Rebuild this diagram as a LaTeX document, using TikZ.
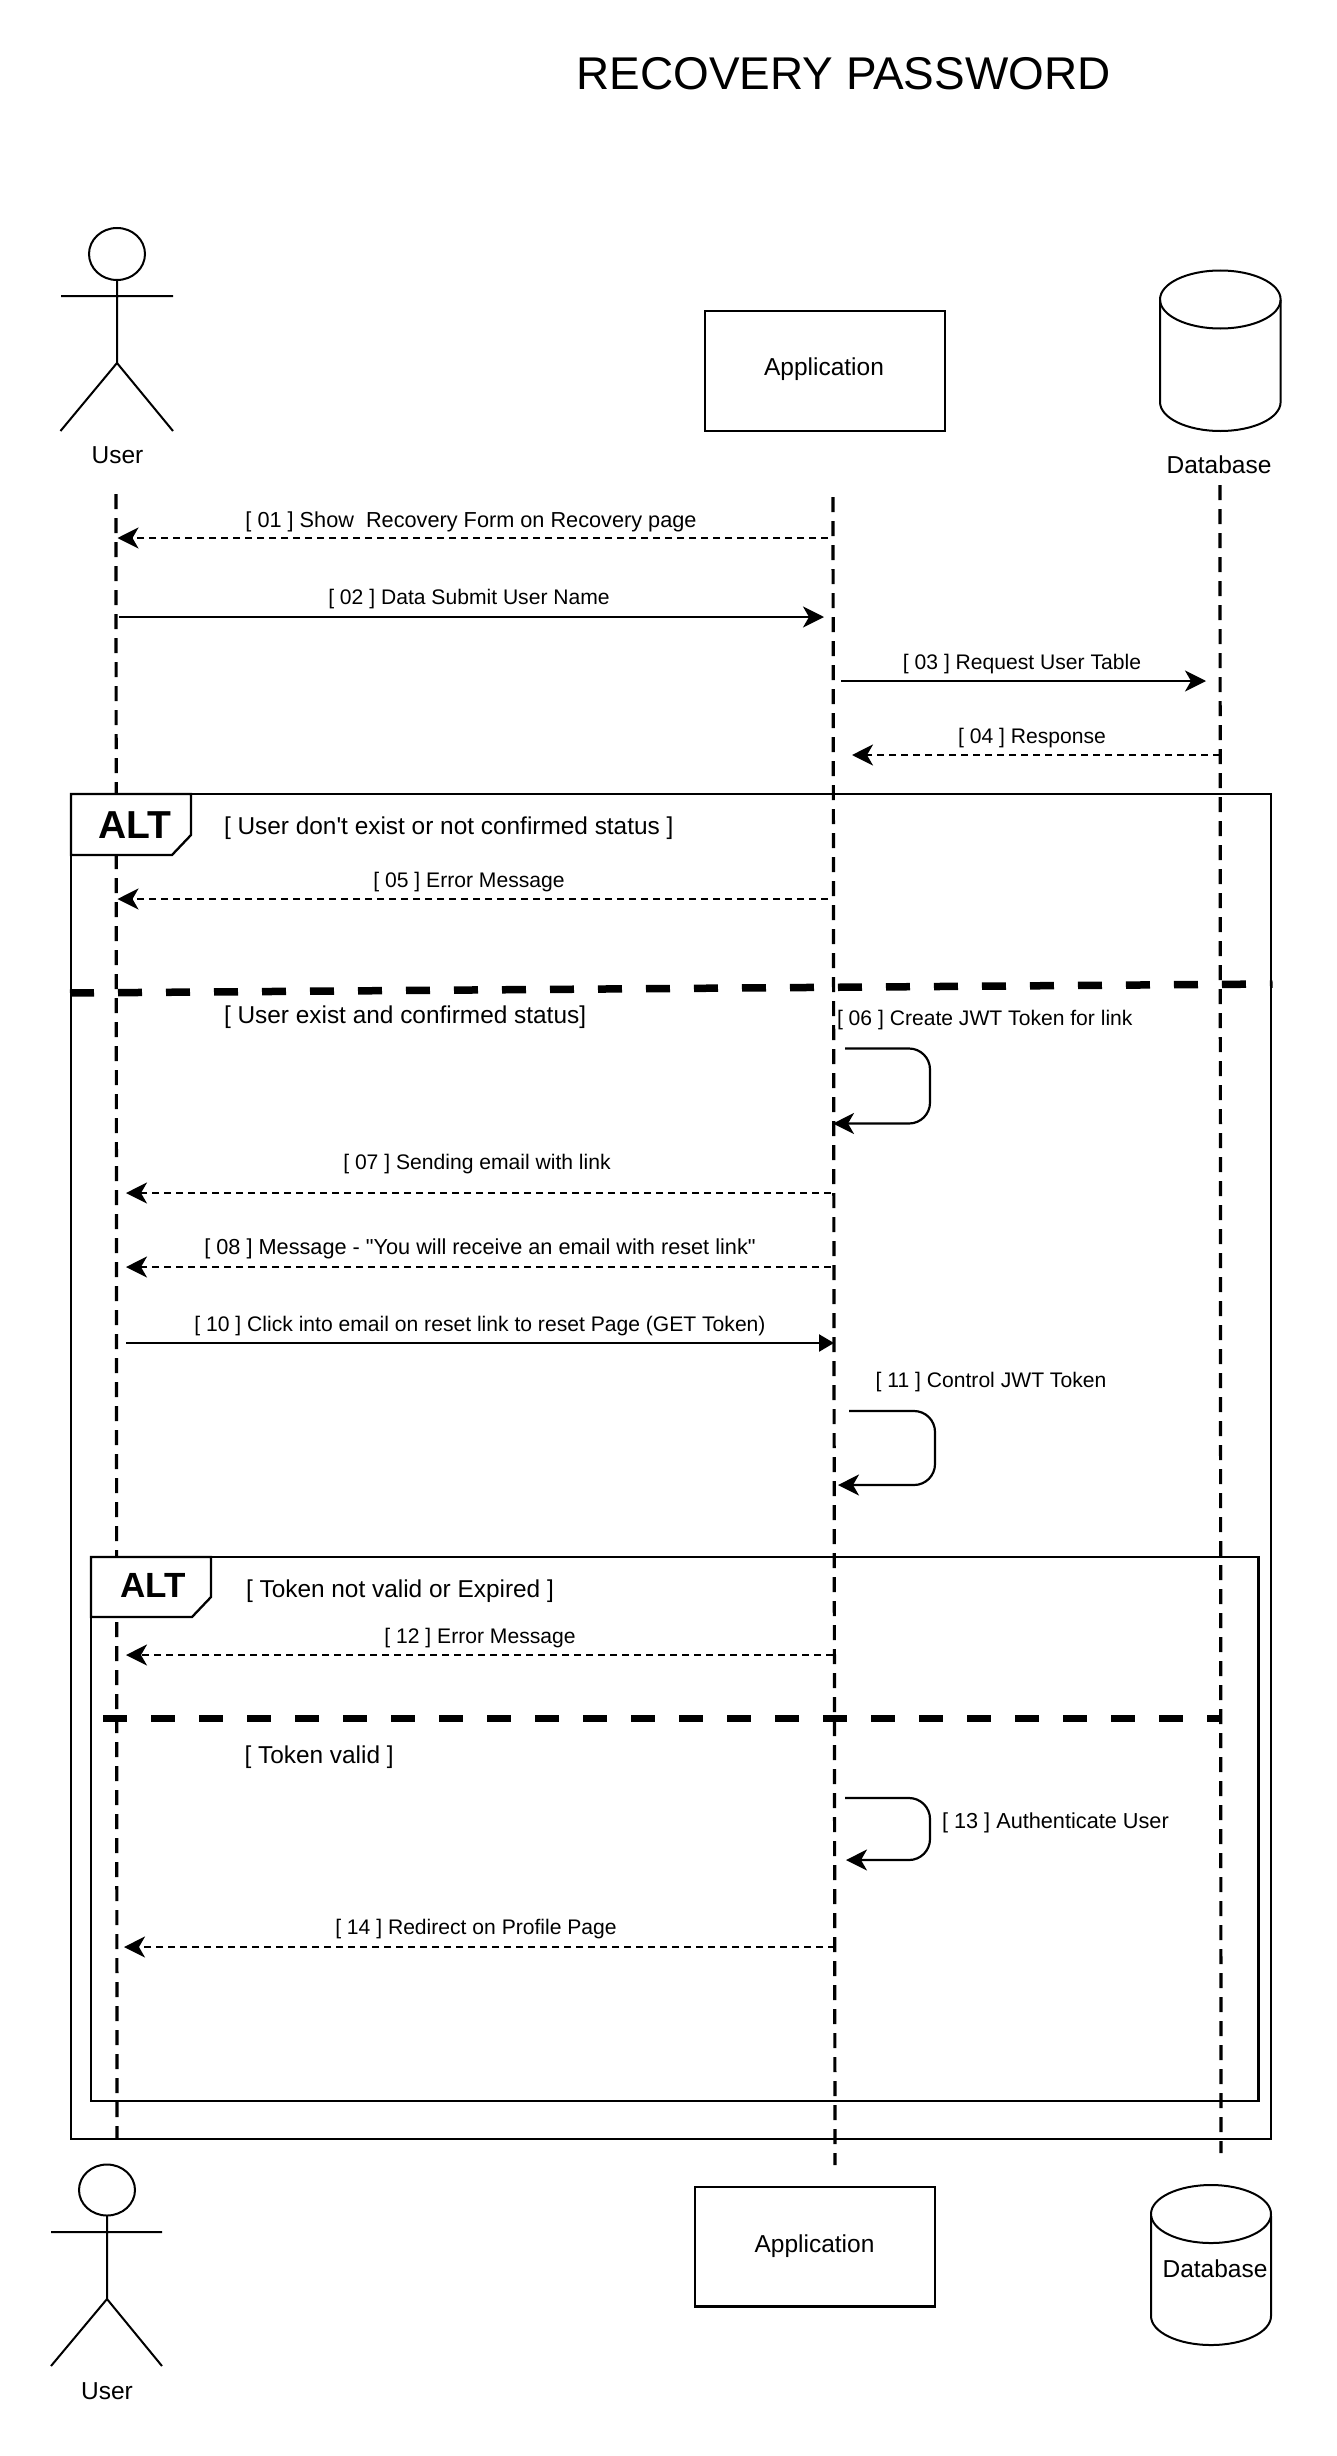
\documentclass[tikz,border=0pt]{standalone}
\usepackage{fontspec}
\setmainfont{Liberation Sans}
\newfontfamily\plainsans{Liberation Sans}
\usetikzlibrary{arrows.meta}
\tikzset{
  x=1pt,y=-1pt,
  every node/.style={inner sep=0pt,outer sep=0pt},
  lbl/.style={font=\plainsans\fontsize{21.1}{25}\selectfont,text height=15.5pt,text depth=1.5pt},
  lblwide/.style={font=\plainsans\fontsize{21.7}{25}\selectfont,text height=15.5pt,text depth=1.5pt},
  actorlbl/.style={font=\plainsans\fontsize{24.5}{28}\selectfont,text height=16pt,text depth=1pt},
  cond/.style={font=\plainsans\fontsize{24.4}{28}\selectfont,text height=18pt,text depth=3pt},
  altbig/.style={font=\plainsans\fontsize{39}{44}\selectfont\bfseries},
  altsmall/.style={font=\plainsans\fontsize{35}{40}\selectfont\bfseries},
  titlefont/.style={font=\plainsans\fontsize{45.9}{52}\selectfont},
  shapeline/.style={line width=2pt,line join=miter},
  lifeline/.style={line width=3.2pt,dash pattern=on 15pt off 9pt},
  framebox/.style={line width=2.3pt},
  tabbox/.style={line width=2.3pt,fill=white},
  sepline/.style={line width=7.5pt,dash pattern=on 24pt off 24pt},
  head/.style={-{Stealth[length=21pt,width=21pt,inset=6pt]}},
  msgsolid/.style={line width=2.4pt,head},
  msgdash/.style={line width=2.2pt,head,dash pattern=on 7pt off 5pt},
  msgblock/.style={line width=2.4pt,-{Triangle[length=15pt,width=17pt]}},
  selfloop/.style={line width=2.2pt,head,rounded corners=21pt},
}
\begin{document}
\begin{tikzpicture}
\useasboundingbox (0,0) rectangle (1336,2456);
\fill[white] (0,0) rectangle (1336,2456);

% title
\node[titlefont] (title) at (843.5,74) {RECOVERY PASSWORD};

% lifeline ends
\coordinate (uT) at (116,494);  \coordinate (uB) at (117,2139);
\coordinate (aT) at (833,497);  \coordinate (aB) at (835,2165);
\coordinate (dT) at (1220,485); \coordinate (dB) at (1221,2153);
\draw[lifeline] (uT) -- (uB);
\draw[lifeline] (aT) -- (aB);
\draw[lifeline] (dT) -- (dB);

% top actors
\draw[shapeline] (117,254) ellipse [x radius=28,y radius=26];
\draw[shapeline] (117,280) -- (117,363) (61,296) -- (173,296) (60.5,431) -- (117,363) -- (173,431);
\node[actorlbl] (userTop) at (117.5,456) {User};
\node[draw,line width=2.3pt,minimum width=240pt,minimum height=120pt,anchor=north west] (appTop) at (705,311) {};
\node[actorlbl] (appTopText) at (824,368) {Application};
\draw[shapeline] (1160,300) -- (1160,402) arc[start angle=180,end angle=0,x radius=60.3,y radius=29] -- (1280.6,300);
\draw[shapeline] (1220.3,299.5) ellipse [x radius=60.3,y radius=29];
\node[actorlbl] (dbTop) at (1219,466) {Database};

% outer frame
\node[draw,framebox,minimum width=1200pt,minimum height=1345pt,anchor=north west] (frameA) at (71,794) {};
\draw[tabbox] (71,794) -- (191,794) -- (191,835) -- (172,855) -- (71,855) -- cycle;
\node[altbig] (altA) at (135,825) {ALT};
\node[cond,anchor=west] (condA1) at (224,826.5) {[ User don't exist or not confirmed status ]};
\node[cond,anchor=west] (condA2) at (224,1016) {[ User exist and confirmed status]};
\coordinate (sepAl) at (70,993); \coordinate (sepAr) at (1272.5,984);
\draw[sepline] (sepAl) -- (sepAr);

% inner frame
\node[draw,framebox,minimum width=1167.5pt,minimum height=543.7pt,anchor=north west] (frameB) at (91,1557) {};
\draw[tabbox] (91,1557) -- (211,1557) -- (211,1597) -- (192,1617) -- (91,1617) -- cycle;
\node[altsmall] (altB) at (153,1585) {ALT};
\node[cond,anchor=west] (condB1) at (246,1590) {[ Token not valid or Expired ]};
\node[cond,anchor=west] (condB2) at (244.5,1756) {[ Token valid ]};
\coordinate (sepBl) at (103,1718.5); \coordinate (sepBr) at (1222,1718.5);
\draw[sepline] (sepBl) -- (sepBr);

% messages
\coordinate (m01s) at (828,538);  \coordinate (m01e) at (117.5,538);
\draw[msgdash] (m01s) -- (m01e);
\node[lblwide] (t01) at (471,520) {[ 01 ] Show~ Recovery Form on Recovery page};

\coordinate (m02s) at (119,617);  \coordinate (m02e) at (824,617);
\draw[msgsolid] (m02s) -- (m02e);
\node[lbl] (t02) at (469,597) {[ 02 ] Data Submit User Name};

\coordinate (m03s) at (841,681);  \coordinate (m03e) at (1206,681);
\draw[msgsolid] (m03s) -- (m03e);
\node[lbl] (t03) at (1022,662) {[ 03 ] Request User Table};

\coordinate (m04s) at (1220,755); \coordinate (m04e) at (852,755);
\draw[msgdash] (m04s) -- (m04e);
\node[lbl] (t04) at (1032,736) {[ 04 ] Response};

\coordinate (m05s) at (828,899);  \coordinate (m05e) at (117.5,899);
\draw[msgdash] (m05s) -- (m05e);
\node[lbl] (t05) at (469,880) {[ 05 ] Error Message};

\node[lbl,anchor=west] (t06) at (837,1018) {[ 06 ] Create JWT Token for link};
\coordinate (m06s) at (845,1048.5); \coordinate (m06c1) at (930,1048.5); \coordinate (m06c2) at (930,1123.5); \coordinate (m06e) at (833,1123.5);
\draw[selfloop] (m06s) -- (m06c1) -- (m06c2) -- (m06e);

\coordinate (m07s) at (831,1193); \coordinate (m07e) at (126,1193);
\draw[msgdash] (m07s) -- (m07e);
\node[lbl] (t07) at (477,1162) {[ 07 ] Sending email with link};

\coordinate (m08s) at (831,1267); \coordinate (m08e) at (126,1267);
\draw[msgdash] (m08s) -- (m08e);
\node[lblwide] (t08) at (480,1247) {[ 08 ] Message - "You will receive an email with reset link"};

\coordinate (m10s) at (126,1343); \coordinate (m10e) at (834,1343);
\draw[msgblock] (m10s) -- (m10e);
\node[lbl] (t10) at (480,1324) {[ 10 ] Click into email on reset link to reset Page (GET Token)};

\node[lbl] (t11) at (991,1380) {[ 11 ] Control JWT Token};
\coordinate (m11s) at (849,1411); \coordinate (m11c1) at (935,1411); \coordinate (m11c2) at (935,1485); \coordinate (m11e) at (838,1485);
\draw[selfloop] (m11s) -- (m11c1) -- (m11c2) -- (m11e);

\coordinate (m12s) at (833,1655); \coordinate (m12e) at (126,1655);
\draw[msgdash] (m12s) -- (m12e);
\node[lbl] (t12) at (480,1636) {[ 12 ] Error Message};

\coordinate (m13s) at (845,1798); \coordinate (m13c1) at (930,1798); \coordinate (m13c2) at (930,1860); \coordinate (m13e) at (846,1860);
\draw[selfloop] (m13s) -- (m13c1) -- (m13c2) -- (m13e);
\node[lblwide,anchor=west] (t13) at (942,1821.5) {[ 13 ] Authenticate User};

\coordinate (m14s) at (835,1947); \coordinate (m14e) at (124,1947);
\draw[msgdash] (m14s) -- (m14e);
\node[lbl] (t14) at (476,1927.5) {[ 14 ] Redirect on Profile Page};

% bottom actors
\draw[shapeline] (107,2190) ellipse [x radius=28,y radius=25.5];
\draw[shapeline] (107,2215.5) -- (107,2299) (51,2232) -- (162,2232) (51,2366) -- (107,2299) -- (162,2366);
\node[actorlbl] (userBot) at (107,2392) {User};
\node[draw,line width=2.3pt,minimum width=240pt,minimum height=119.5pt,anchor=north west] (appBot) at (695,2187) {};
\node[actorlbl] (appBotText) at (814.5,2245) {Application};
\draw[shapeline] (1151,2216) -- (1151,2316) arc[start angle=180,end angle=0,x radius=60,y radius=29] -- (1271,2216);
\draw[shapeline] (1211,2214) ellipse [x radius=60,y radius=29];
\node[actorlbl] (dbBot) at (1215,2270) {Database};
\end{tikzpicture}
\end{document}
